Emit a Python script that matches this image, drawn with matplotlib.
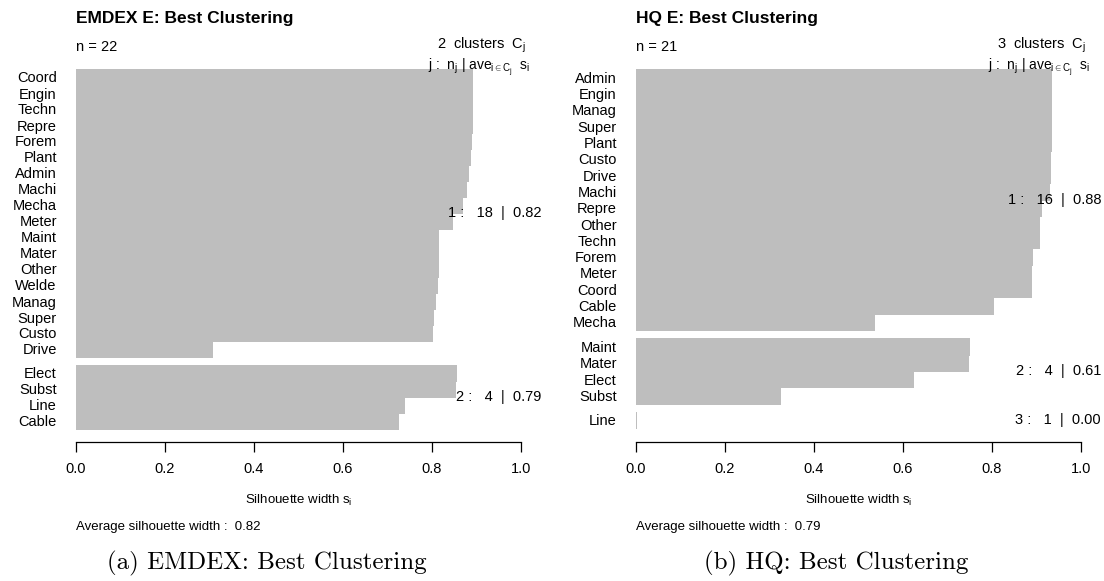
import matplotlib
matplotlib.use("Agg")
import matplotlib.pyplot as plt

plt.rcParams['font.family'] = ['Liberation Sans', 'DejaVu Sans']
plt.rcParams['mathtext.fontset'] = 'custom'
plt.rcParams['mathtext.rm'] = 'Liberation Sans'
plt.rcParams['mathtext.it'] = 'Liberation Sans'
plt.rcParams['mathtext.bf'] = 'Liberation Sans:bold'

# ---- data ----
emdex_names = ["Coord", "Engin", "Techn", "Repre", "Forem", "Plant", "Admin", "Machi",
               "Mecha", "Meter", "Maint", "Mater", "Other", "Welde", "Manag", "Super",
               "Custo", "Drive", "Elect", "Subst", "Line", "Cable"]
emdex_sil = [0.890, 0.890, 0.889, 0.889, 0.888, 0.886, 0.882, 0.876, 0.867, 0.846, 0.814,
             0.814, 0.813, 0.811, 0.806, 0.803, 0.799, 0.305, 0.853, 0.852, 0.737, 0.724]
emdex_sizes = [18, 4]
emdex_cluster_avg = [0.82, 0.79]
emdex_avg = 0.82

hq_names = ["Admin", "Engin", "Manag", "Super", "Plant", "Custo", "Drive", "Machi",
            "Repre", "Other", "Techn", "Forem", "Meter", "Coord", "Cable", "Mecha",
            "Maint", "Mater", "Elect", "Subst", "Line"]
hq_sil = [0.933, 0.933, 0.933, 0.932, 0.932, 0.931, 0.930, 0.929, 0.910, 0.905, 0.905,
          0.889, 0.887, 0.887, 0.802, 0.535, 0.749, 0.746, 0.623, 0.323, 0.0]
hq_sizes = [16, 4, 1]
hq_cluster_avg = [0.88, 0.61, 0.00]
hq_avg = 0.79

W, H = 1104, 581
BAR_COLOR = "#bebebe"
GAP = 0.5          # space between clusters, in bar heights
XSCALE = 445       # pixels per unit silhouette width
AX_TOP, AX_BOT = 60, 442


def silhouette_panel(fig, x0, bar_top, bar_bot, names, sil, sizes, cl_avg, avg, title, caption, cap_x):
    pos = []
    mids = []
    offset = 0.0
    for size in sizes:
        pos.extend([offset + i + 0.5 for i in range(size)])
        mids.append(offset + size / 2.0)
        offset += size + GAP
    total = offset - GAP
    unit = (bar_bot - bar_top) / total

    left = x0 - 0.04 * XSCALE
    ax = fig.add_axes([left / W, (H - AX_BOT) / H, 1.085 * XSCALE / W, (AX_BOT - AX_TOP) / H])
    bars = ax.barh(pos, sil, height=1.0, color=BAR_COLOR, edgecolor=BAR_COLOR, linewidth=0.72)
    for b in bars:
        b.set_antialiased(False)
    ax.set_xlim(-0.04, 1.045)
    ax.set_ylim(total + (AX_BOT - bar_bot) / unit, -(bar_top - AX_TOP) / unit)

    for s in ["top", "right", "left"]:
        ax.spines[s].set_visible(False)
    ax.spines["bottom"].set_bounds(0, 1)
    ax.spines["bottom"].set_linewidth(0.9)
    ax.set_xticks([0, 0.2, 0.4, 0.6, 0.8, 1.0])
    ax.set_xticklabels(["0.0", "0.2", "0.4", "0.6", "0.8", "1.0"], fontsize=10.5)
    ax.tick_params(axis="x", direction="out", length=7.2, width=0.9, pad=7)
    ax.set_yticks(pos)
    ax.set_yticklabels(names, fontsize=10.5)
    ax.tick_params(axis="y", length=0, pad=1)

    for k, (m, n, a) in enumerate(zip(mids, sizes, cl_avg)):
        ax.text(1.045, m, "%d :   %d  |  %.2f" % (k + 1, n, a),
                ha="right", va="center", fontsize=10.5)

    fig.text(x0 / W, 1 - 18 / H, title, ha="left", va="center", fontsize=12.5, fontweight="bold")
    fig.text(x0 / W, 1 - 47 / H, "n = %d" % len(names), ha="left", va="center", fontsize=10.5)
    fig.text((x0 + 1.01 * XSCALE) / W, 1 - 45 / H, r"%d  clusters  $C_j$" % len(sizes),
             ha="right", va="center", fontsize=10.5)
    fig.text((x0 + 1.02 * XSCALE) / W, 1 - 67 / H, r"$j$ :  $n_j$ | ave$_{i\in C_j}$  $s_i$",
             ha="right", va="center", fontsize=10)
    fig.text((x0 + 0.5 * XSCALE) / W, 1 - 500 / H, r"Silhouette width $s_i$",
             ha="center", va="center", fontsize=9.5)
    fig.text(x0 / W, 1 - 527 / H, "Average silhouette width :  %.2f" % avg,
             ha="left", va="center", fontsize=9.5)
    fig.text(cap_x / W, 1 - 563 / H, caption, ha="center", va="center",
             fontsize=18, family=["cmr10", "DejaVu Serif"])
    return ax


fig = plt.figure(figsize=(W / 100, H / 100), dpi=100)
silhouette_panel(fig, 76, 69, 429, emdex_names, emdex_sil, emdex_sizes, emdex_cluster_avg,
                 emdex_avg, "EMDEX E: Best Clustering", "(a) EMDEX: Best Clustering", 267)
silhouette_panel(fig, 636, 69, 428, hq_names, hq_sil, hq_sizes, hq_cluster_avg,
                 hq_avg, "HQ E: Best Clustering", "(b) HQ: Best Clustering", 836)
fig.savefig("out.png", dpi=100)
